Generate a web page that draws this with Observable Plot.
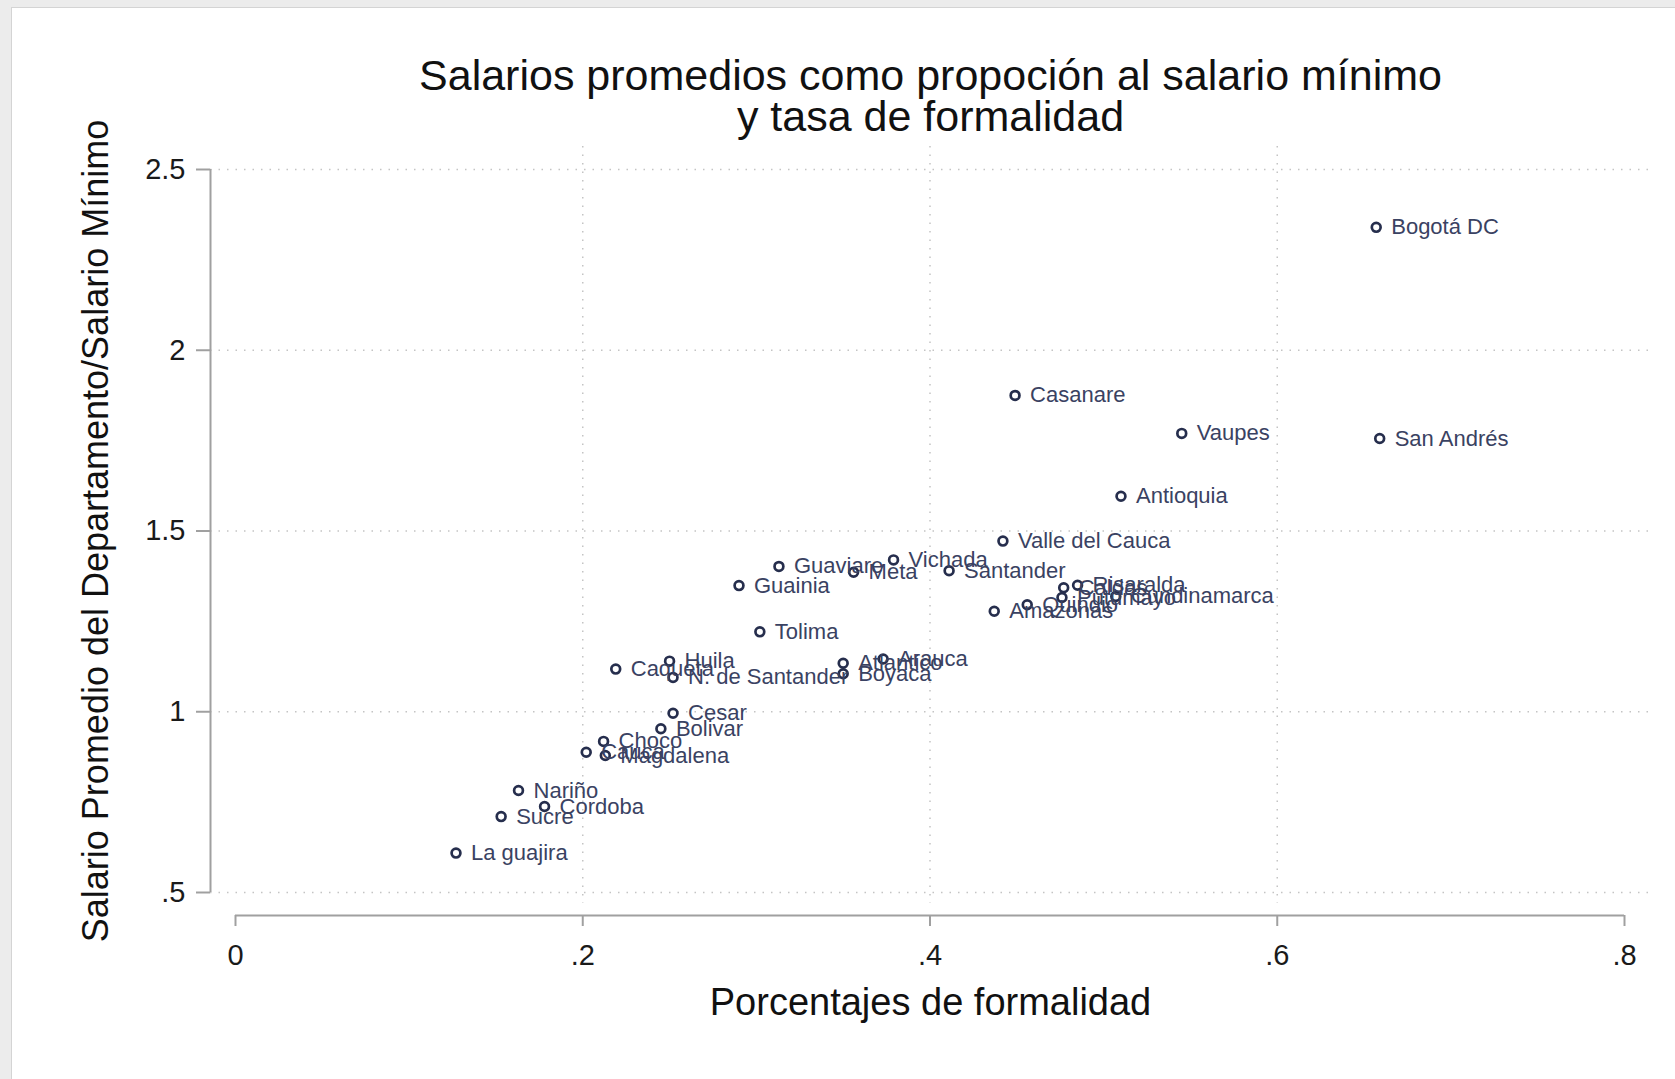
<!DOCTYPE html>
<html>
<head>
<meta charset="utf-8">
<script src="https://cdn.jsdelivr.net/npm/d3@7"></script>
<script src="https://cdn.jsdelivr.net/npm/@observablehq/plot@0.6"></script>
<style>
  html, body { margin: 0; padding: 0; background: #ececec; }
  #wrap { position: relative; width: 1675px; height: 1079px; overflow: hidden; background: #ececec; }
  #page { position: absolute; left: 11px; top: 7px; right: 0; bottom: 0; background: #fff;
          border-left: 1px solid #d4d4d4; border-top: 1px solid #d4d4d4; }
  #chart { position: absolute; left: 0; top: 0; }
  svg { font-family: "Liberation Sans", Arial, sans-serif; }
</style>
</head>
<body>
<div id="wrap"><div id="page"></div><div id="chart"></div></div>
<script>
// ---- data ----
const departamentos = ["Bogotá DC","San Andrés","Casanare","Vaupes","Antioquia","Valle del Cauca","Vichada","Santander","Guaviare","Meta","Guainia","Tolima","Amazonas","Quindio","Putumayo","Caldas","Risaralda","Cundinamarca","Huila","Caqueta","N. de Santander","Atlantico","Boyaca","Arauca","Cesar","Bolivar","Choco","Cauca","Magdalena","Nariño","Cordoba","Sucre","La guajira"];
const formalidad = [0.657,0.659,0.449,0.545,0.510,0.442,0.379,0.411,0.313,0.356,0.290,0.302,0.437,0.456,0.476,0.477,0.485,0.507,0.250,0.219,0.252,0.350,0.350,0.373,0.252,0.245,0.212,0.202,0.213,0.163,0.178,0.153,0.127];
const salarioRel = [2.340,1.756,1.875,1.770,1.596,1.472,1.420,1.390,1.402,1.386,1.349,1.221,1.278,1.296,1.316,1.343,1.350,1.319,1.140,1.118,1.095,1.134,1.105,1.146,0.996,0.953,0.918,0.888,0.879,0.782,0.738,0.710,0.609];
const xTicks = [0, 0.2, 0.4, 0.6, 0.8];
const xTickLabels = ["0", ".2", ".4", ".6", ".8"];
const xGrid = [0.2, 0.4, 0.6];
const yTicks = [0.5, 1, 1.5, 2, 2.5];
const yTickLabels = [".5", "1", "1.5", "2", "2.5"];
const titleText = "Salarios promedios como propoción al salario mínimo\ny tasa de formalidad";
const xTitle = "Porcentajes de formalidad";
const yTitle = "Salario Promedio del Departamento/Salario Mínimo";

const data = departamentos.map((d, i) => ({name: d, x: formalidad[i], y: salarioRel[i]}));

const markColor = "#262e4d";
const labelColor = "#3a4262";
const axisColor = "#a0a0a0";
const gridColor = "#c4c4c4";

const chart = Plot.plot({
  width: 1675,
  height: 1079,
  marginLeft: 210,
  marginRight: 25,
  marginTop: 146,
  marginBottom: 164,
  style: {background: "transparent", fontFamily: "'Liberation Sans', Arial, sans-serif"},
  x: {domain: [0, 0.8], range: [235, 1624]},
  y: {domain: [0.5, 2.5], range: [892, 169]},
  marks: [
    // grid
    Plot.ruleY(yTicks, {stroke: gridColor, strokeWidth: 1.5, strokeDasharray: "1.5,7"}),
    Plot.ruleX(xGrid, {stroke: gridColor, strokeWidth: 1.5, strokeDasharray: "1.5,7", insetBottom: 12}),
    // axis lines
    Plot.ruleX([xTicks[0]], {y1: yTicks[0], y2: yTicks[yTicks.length - 1], dx: -25, stroke: axisColor, strokeWidth: 2}),
    Plot.ruleY([yTicks[0]], {x1: xTicks[0], x2: xTicks[xTicks.length - 1], dy: 23, stroke: axisColor, strokeWidth: 2}),
    // axes
    Plot.axisY(yTicks, {anchor: "left", tickSize: 14, tickPadding: 11, strokeWidth: 2, stroke: axisColor, fill: "#1a1a1a",
      fontSize: 29, label: null, tickFormat: (d) => yTickLabels[yTicks.indexOf(d)]}),
    Plot.axisX(xTicks, {anchor: "bottom", tickSize: 11, tickPadding: 18, strokeWidth: 2, stroke: axisColor, fill: "#1a1a1a",
      fontSize: 29, label: null, tickFormat: (d) => xTickLabels[xTicks.indexOf(d)]}),
    // titles
    Plot.text([xTitle], {frameAnchor: "bottom", textAnchor: "middle", lineAnchor: "middle", dy: 87, fontSize: 38, fill: "#111"}),
    Plot.text([yTitle], {frameAnchor: "left", textAnchor: "middle", lineAnchor: "middle", rotate: -90, dx: -114, fontSize: 36, fill: "#111"}),
    Plot.text([titleText], {frameAnchor: "top", textAnchor: "middle", lineAnchor: "middle", dy: -49, fontSize: 43, lineHeight: 0.94, fill: "#111"}),
    // points + labels
    Plot.dot(data, {x: "x", y: "y", r: 4.4, stroke: markColor, strokeWidth: 2.7, fill: "none"}),
    Plot.text(data, {x: "x", y: "y", text: "name", textAnchor: "start", dx: 15, fontSize: 22, fill: labelColor})
  ]
});
document.getElementById("chart").appendChild(chart);
</script>
</body>
</html>
